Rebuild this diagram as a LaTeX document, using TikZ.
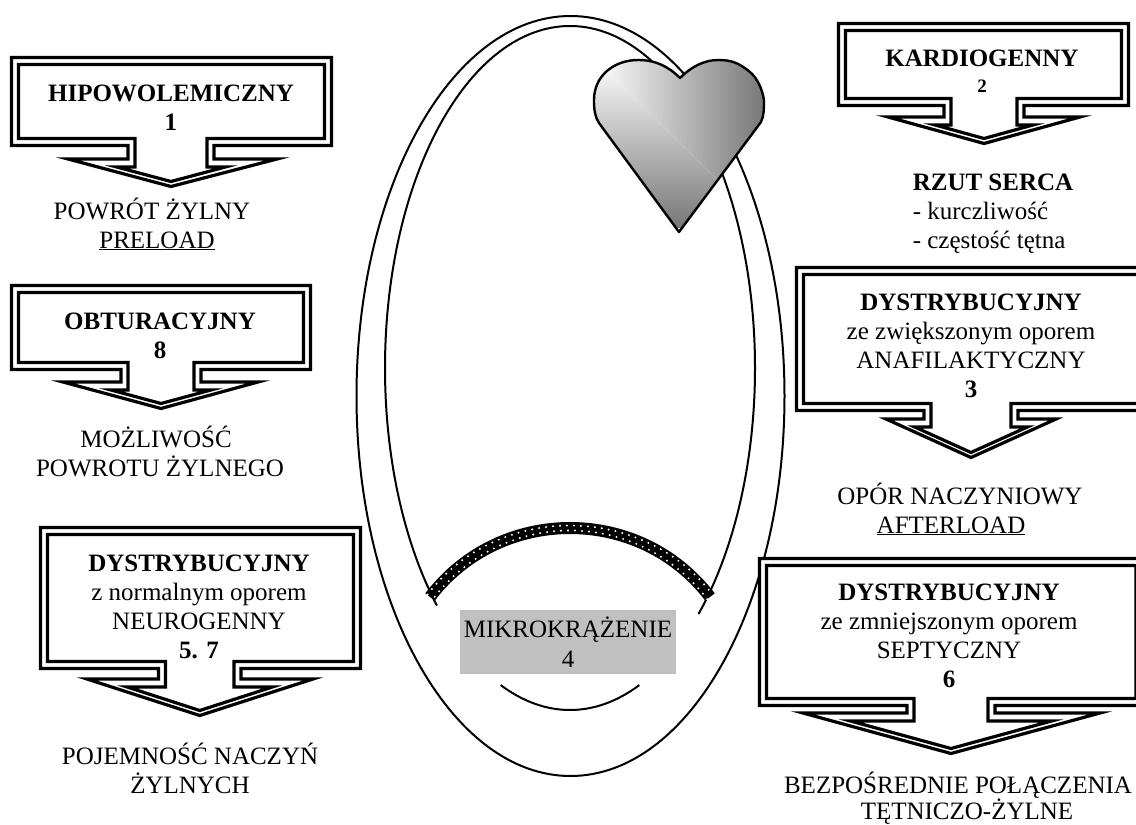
\documentclass[tikz,border=0pt]{standalone}
\usepackage{fontspec}
\setmainfont{Liberation Serif}
\usetikzlibrary{positioning,calc}
\definecolor{microgrey}{RGB}{192,192,192}
\definecolor{heartgrey}{RGB}{120,120,120}
\def\heartpath{(680,78) .. controls (668,66) and (655,60) .. (638,60)
  .. controls (615,60) and (594,75) .. (594,100)
  .. controls (594,110) and (595,117) .. (599,123)
  -- (679,232) -- (761,122)
  .. controls (764,116) and (764,108) .. (764,100)
  .. controls (762,88) and (757,78) .. (750,72)
  .. controls (738,62) and (730,60) .. (718,60)
  .. controls (705,60) and (692,66) .. (680,78) -- cycle}

\begin{document}
\begin{tikzpicture}[
  x=1pt,y=-1pt,
  vessel/.style={line width=2pt},
  frame/.style={line width=3.2pt,draw=black},
  label/.style={anchor=base,align=center,inner sep=0pt,
                font=\fontsize{25}{29}\selectfont}
]
\clip (0,0) rectangle (1136,825);
% circulation loop
\draw[vessel] (570.5,396) ellipse [x radius=214,y radius=380];
\draw[vessel] (570,368) ++(46:185 and 342) arc [start angle=46,end angle=-224,x radius=185,y radius=342];
\draw[vessel] (570,368) ++(68:185 and 342) arc [start angle=68,end angle=112,x radius=185,y radius=342];
% capillary band
\draw[line width=12pt] (430,597) .. controls (500,505) and (640,505) .. (710,597);
\foreach \rowD/\rowP in {-2.5/0,2.5/3.5}
  \draw[white,line width=2.2pt,line cap=round,dash pattern=on 0pt off 7pt,dash phase=\rowP pt]
    (430+\rowD,597+\rowD) .. controls (500+\rowD,505+\rowD) and (640-\rowD,505+\rowD) .. (710-\rowD,597+\rowD);
% heart with two shaded halves
\begin{scope}
  \clip \heartpath;
  \begin{scope}
    \clip (560,23) -- (800,23) -- (800,263) -- cycle;
    \shade[left color=white,right color=heartgrey] (594,57) rectangle (764,227);
  \end{scope}
  \begin{scope}
    \clip (560,23) -- (800,263) -- (560,263) -- cycle;
    \shade[top color=white,bottom color=heartgrey] (594,57) rectangle (764,227);
  \end{scope}
\end{scope}
\draw[line width=2.4pt,line join=round] \heartpath;
% arrow boxes
\foreach \boxL/\boxT/\boxR/\boxB/\stemL/\stemR/\wingL/\wingR/\wingY/\tipY in {
  11.5/57.5/331.5/145.5/128/214/68/277/159/186.5,
  11.5/285.5/310.5/369.5/121/201/63/258/382/408.5,
  40.5/527.5/360.5/668.5/158.5/241/87/313/679/715.5,
  838.5/23.5/1128.5/105.5/944/1024/888/1080/117/143.5,
  796.5/267.5/1146/410.5/924/1018/886/1056/419/457.5,
  759.5/558.5/1143/705.5/907/995/803/1100/713/753.5}
{
  \pgfmathsetmacro\tipX{(\stemL+\stemR)/2}
  \pgfmathsetmacro\wingD{(\tipY-5-\wingY-8)*(\tipX-\wingL)/(\tipY-\wingY)}
  \draw[frame,fill=white] (\boxL,\boxT) -- (\boxR,\boxT) -- (\boxR,\boxB) -- (\stemR,\boxB)
    -- (\stemR,\wingY) -- (\wingR,\wingY) -- (\tipX,\tipY) -- (\wingL,\wingY)
    -- (\stemL,\wingY) -- (\stemL,\boxB) -- (\boxL,\boxB) -- cycle;
  \draw[frame] (\boxL+7,\boxT+7) -- (\boxR-7,\boxT+7) -- (\boxR-7,\boxB-7) -- (\stemR-7,\boxB-7)
    -- (\stemR-7,\wingY+8) -- (\tipX+\wingD,\wingY+8) -- (\tipX,\tipY-5) -- (\tipX-\wingD,\wingY+8)
    -- (\stemL+7,\wingY+8) -- (\stemL+7,\boxB-7) -- (\boxL+7,\boxB-7) -- cycle;
}
% box texts
\node[label] (hipo) at (171,130) {\textbf{HIPOWOLEMICZNY}\\\textbf{1}};
\node[label] (obtur) at (160,358) {\textbf{OBTURACYJNY}\\\textbf{8}};
\node[label] (neuro) at (199,658) {\textbf{DYSTRYBUCYJNY}\\z normalnym oporem\\NEUROGENNY\\\textbf{5. 7}};
\node[label] (kardio) at (982,92) {\textbf{KARDIOGENNY}\\[-3pt]{\fontsize{19}{19}\selectfont\textbf{2}}};
\node[label] (anafil) at (971,397) {\textbf{DYSTRYBUCYJNY}\\ze zwiększonym oporem\\ANAFILAKTYCZNY\\\textbf{3}};
\node[label] (septic) at (949,687) {\textbf{DYSTRYBUCYJNY}\\ze zmniejszonym oporem\\SEPTYCZNY\\\textbf{6}};
% texts under the boxes
\node[label] (preload) at (152,248) {POWRÓT ŻYLNY\\\hspace*{10pt}\underline{PRELOAD}};
\node[label] (powrot) at (160,476) {\hspace*{-8pt}MOŻLIWOŚĆ\\POWROTU ŻYLNEGO};
\node[label] (pojem) at (190,793) {POJEMNOŚĆ NACZYŃ\\ŻYLNYCH};
\node[label,align=left] (rzut) at (993,248) {\textbf{RZUT SERCA}\\- kurczliwość\\- częstość tętna};
\node[label] (afterload) at (960,533) {OPÓR NACZYNIOWY\\\hspace*{-18pt}\underline{AFTERLOAD}};
\node[label] (bezpos) at (958,819.5) {BEZPOŚREDNIE POŁĄCZENIA\\[-3pt]\hspace*{18pt}TĘTNICZO-ŻYLNE};
% microcirculation label
\node[fill=microgrey,inner sep=0pt,minimum width=216pt,minimum height=64pt,align=center,
      font=\fontsize{25}{30}\selectfont] (micro) at (568,642) {MIKROKRĄŻENIE\\4};
\end{tikzpicture}
\end{document}
